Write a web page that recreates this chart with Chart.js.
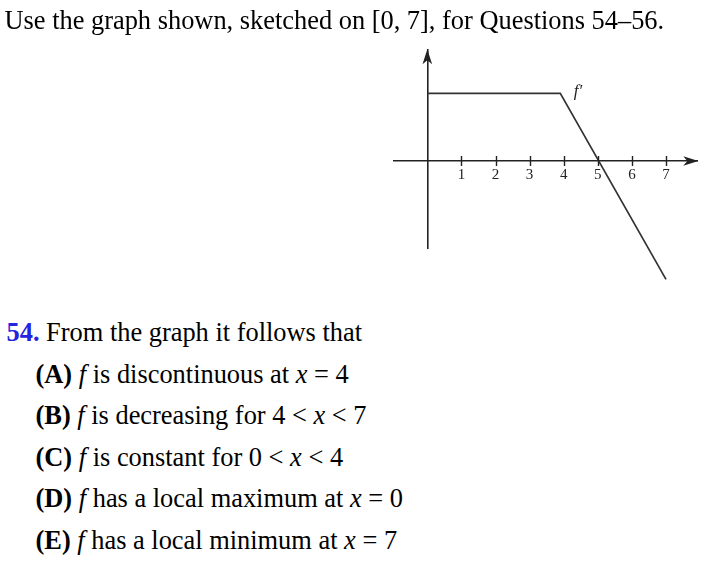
<!DOCTYPE html>
<html>
<head>
<meta charset="utf-8">
<script src="https://cdn.jsdelivr.net/npm/chart.js@4.4.1/dist/chart.umd.min.js"></script>
<style>
  html, body { margin: 0; padding: 0; background: #fff; }
  body { width: 702px; height: 561px; position: relative; overflow: hidden; }
  #graph { position: absolute; left: 0; top: 0; }
  .txt { position: absolute; font-family: "Liberation Serif", "Times New Roman", serif; font-size: 26.4px; line-height: 26.4px; color: #000; white-space: nowrap; }
  .num { color: #2323e0; font-weight: bold; }
  .b { font-weight: bold; }
  .i { font-style: italic; }
</style>
</head>
<body>
<canvas id="graph" width="702" height="300"></canvas>

<div class="txt" style="left:4.5px; top:7.2px;">Use the graph shown, sketched on [0, 7], for Questions 54–56.</div>

<div class="txt" style="left:6.5px; top:319px;"><span class="num">54.</span> From the graph it follows that</div>
<div class="txt" style="left:35.5px; top:360.5px;"><span class="b">(A)</span> <span class="i">f</span> is discontinuous at <span class="i">x</span> = 4</div>
<div class="txt" style="left:35.5px; top:402px;"><span class="b">(B)</span> <span class="i">f</span> is decreasing for 4 &lt; <span class="i">x</span> &lt; 7</div>
<div class="txt" style="left:35.5px; top:443.7px;"><span class="b">(C)</span> <span class="i">f</span> is constant for 0 &lt; <span class="i">x</span> &lt; 4</div>
<div class="txt" style="left:35.5px; top:485.3px;"><span class="b">(D)</span> <span class="i">f</span> has a local maximum at <span class="i">x</span> = 0</div>
<div class="txt" style="left:35.5px; top:527px;"><span class="b">(E)</span> <span class="i">f</span> has a local minimum at <span class="i">x</span> = 7</div>

<script>
// graph of f'
const fpX = [0, 3.9, 7];
const fpY = [2, 2, -3.5];
const xTicks = [1, 2, 3, 4, 5, 6, 7];
const curveLabel = "f\u2032";
const curveLabelAt = [4.42, 2.05];

const axisColor = "#222";

// arrows, crossing tick marks and the f' label
const sketchAxes = {
  id: "sketchAxes",
  afterDraw(chart) {
    const ctx = chart.ctx;
    const xs = chart.scales.x, ys = chart.scales.y;
    const x0 = xs.getPixelForValue(0), y0 = ys.getPixelForValue(0);
    ctx.save();
    ctx.strokeStyle = axisColor;
    ctx.fillStyle = axisColor;
    ctx.lineWidth = 1.4;
    xTicks.forEach(v => {
      const px = Math.round(xs.getPixelForValue(v)) + 0.5;
      ctx.beginPath();
      ctx.moveTo(px, y0 - 5);
      ctx.lineTo(px, y0 + 5);
      ctx.stroke();
    });
    // x arrow
    let tx = xs.right + 1;
    ctx.beginPath();
    ctx.moveTo(tx, y0);
    ctx.lineTo(tx - 15, y0 - 4.8);
    ctx.lineTo(tx - 11, y0);
    ctx.lineTo(tx - 15, y0 + 4.8);
    ctx.closePath();
    ctx.fill();
    // y arrow
    let ty = ys.top;
    ctx.beginPath();
    ctx.moveTo(x0, ty);
    ctx.lineTo(x0 - 4.8, ty + 15);
    ctx.lineTo(x0, ty + 11);
    ctx.lineTo(x0 + 4.8, ty + 15);
    ctx.closePath();
    ctx.fill();
    // label
    ctx.font = "italic 17px 'Liberation Serif'";
    ctx.fillStyle = "#222";
    ctx.textAlign = "center";
    ctx.textBaseline = "middle";
    ctx.fillText(curveLabel, xs.getPixelForValue(curveLabelAt[0]), ys.getPixelForValue(curveLabelAt[1]));
    ctx.restore();
  }
};

new Chart("graph", {
  type: "line",
  data: {
    datasets: [{
      data: fpX.map((x, i) => ({x: x, y: fpY[i]})),
      borderColor: "#333",
      borderWidth: 1.7,
      pointRadius: 0,
      tension: 0,
      clip: false
    }]
  },
  options: {
    responsive: false,
    animation: false,
    events: [],
    layout: { padding: { left: 394, right: 4.7, top: 49.3, bottom: 51.7 } },
    plugins: { legend: { display: false }, tooltip: { enabled: false } },
    scales: {
      x: {
        type: "linear",
        position: { y: 0 },
        min: -0.977,
        max: 7.918,
        afterBuildTicks: s => { s.ticks = xTicks.map(v => ({ value: v })); },
        grid: { drawOnChartArea: false, drawTicks: false },
        border: { display: true, color: axisColor, width: 1.6 },
        ticks: { color: "#222", padding: 5, font: { family: "Liberation Serif", size: 15 }, maxRotation: 0, autoSkip: false }
      },
      y: {
        type: "linear",
        position: { x: 0 },
        min: -2.58,
        max: 3.30,
        grid: { drawOnChartArea: false, drawTicks: false },
        border: { display: true, color: axisColor, width: 1.6 },
        ticks: { display: false }
      }
    }
  },
  plugins: [sketchAxes]
});
</script>
</body>
</html>
